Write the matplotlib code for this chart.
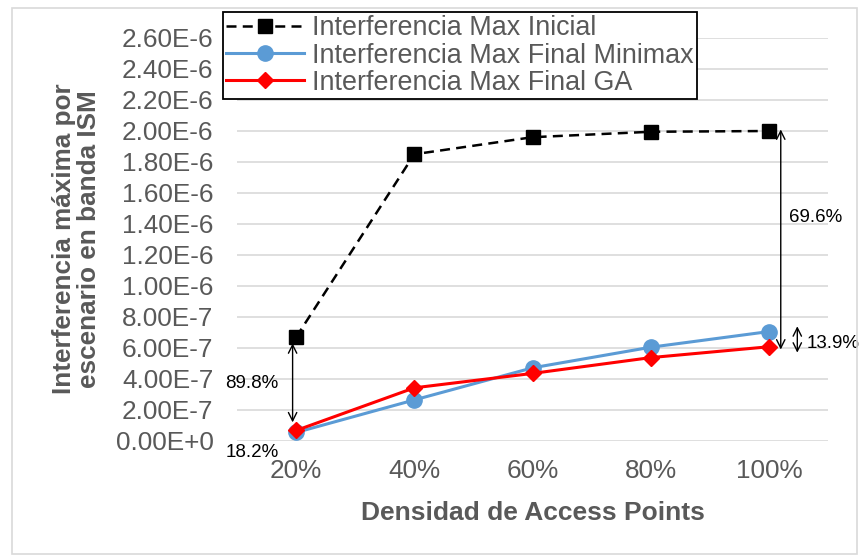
import numpy as np
import matplotlib
matplotlib.use("Agg")
import matplotlib.pyplot as plt
from matplotlib.patches import Rectangle
from matplotlib.ticker import FuncFormatter

plt.rcParams['font.family'] = ['Liberation Sans', 'DejaVu Sans']

# Datos
densidad = ['20%', '40%', '60%', '80%', '100%']
inicial = [0.670e-6, 1.850e-6, 1.960e-6, 1.995e-6, 2.000e-6]
minimax = [0.055e-6, 0.265e-6, 0.472e-6, 0.605e-6, 0.706e-6]
ga = [0.068e-6, 0.343e-6, 0.436e-6, 0.538e-6, 0.608e-6]

gris = '#595959'
x = np.arange(len(densidad))

fig = plt.figure(figsize=(8.62, 5.58), dpi=100)
ax = fig.add_axes([0.275, 0.2097, 0.6856, 0.7222])

ax.plot(x, inicial, color='black', ls=(0, (4, 2.5)), lw=1.8, marker='s',
        ms=10, label='Interferencia Max Inicial', zorder=3)
ax.plot(x, minimax, color='#5b9bd5', lw=2.2, marker='o', ms=11,
        label='Interferencia Max Final Minimax', zorder=3)
ax.plot(x, ga, color='#ff0000', lw=2.2, marker='D', ms=8.5,
        label='Interferencia Max Final GA', zorder=4)

ax.set_xlim(-0.5, 4.5)
ax.set_ylim(0, 2.6e-6)
ax.set_yticks(np.arange(0, 2.61e-6, 0.2e-6))
ax.set_xticks(x)
ax.set_xticklabels(densidad)


def sci(v, pos):
    if abs(v) < 1e-15:
        return '0.00E+0'
    m, e = f'{v:.2E}'.split('E')
    return f'{m}E{int(e)}' if int(e) < 0 else f'{m}E+{int(e)}'


ax.yaxis.set_major_formatter(FuncFormatter(sci))
ax.tick_params(axis='both', length=0, labelsize=18.8, colors=gris)
ax.tick_params(axis='y', pad=17)
ax.tick_params(axis='x', pad=13)
ax.grid(axis='y', color='#d9d9d9', lw=1.2)
ax.set_axisbelow(True)
for s in ax.spines.values():
    s.set_visible(False)

ax.set_xlabel('Densidad de Access Points', fontsize=19, fontweight='bold',
              color=gris, labelpad=13)
fig.text(0.089, 0.572, 'Interferencia máxima por\nescenario en banda ISM',
         rotation=90, ha='center', va='center', fontsize=18.8,
         fontweight='bold', color=gris, linespacing=1.05)

# Anotaciones
arr = dict(arrowstyle='<->,head_length=0.6,head_width=0.3', color='black', lw=1,
           shrinkA=0, shrinkB=0)
ax.annotate('', xy=(-0.03, 0.12e-6), xytext=(-0.03, 0.63e-6), arrowprops=arr)
ax.annotate('', xy=(4.1, 0.59e-6), xytext=(4.1, 2.01e-6), arrowprops=arr)
ax.annotate('', xy=(4.24, 0.57e-6), xytext=(4.24, 0.74e-6), arrowprops=arr)
ax.text(-0.15, 0.374e-6, '89.8%', ha='right', va='center', fontsize=13.5)
ax.text(-0.15, -0.077e-6, '18.2%', ha='right', va='center', fontsize=13.5,
        clip_on=False)
ax.text(4.17, 1.445e-6, '69.6%', ha='left', va='center', fontsize=13.5)
ax.text(4.32, 0.63e-6, '13.9%', ha='left', va='center', fontsize=13.5)

leg = fig.legend(loc='upper left', bbox_to_anchor=(223 / 862, 1 - 12 / 558),
                 fontsize=19.4, frameon=True, fancybox=False, edgecolor='black',
                 framealpha=1, borderpad=0.12, labelspacing=0.05,
                 handlelength=2.9, handletextpad=0.3, borderaxespad=0)
leg.get_frame().set_linewidth(1.3)
for t in leg.get_texts():
    t.set_color(gris)

fig.patches.append(Rectangle((12 / 862, 4 / 558), 845 / 862, 546 / 558,
                             transform=fig.transFigure, fill=False,
                             edgecolor='#d9d9d9', lw=1.2))

fig.savefig('out.png', dpi=100)
